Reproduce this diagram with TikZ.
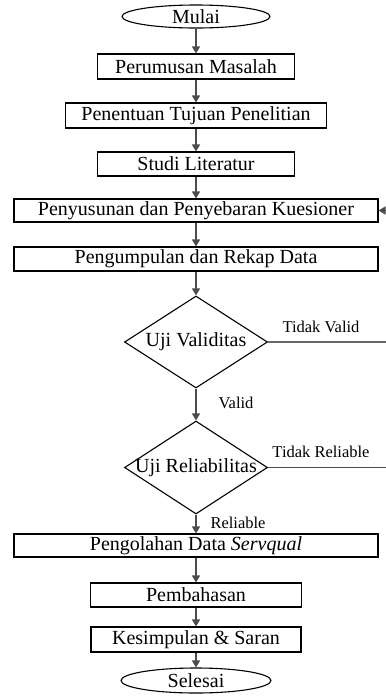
\documentclass[tikz,border=0pt]{standalone}
\usepackage{fontspec}
\setmainfont{Liberation Serif}
\usetikzlibrary{shapes.geometric,arrows.meta}

\tikzset{
    kotak/.style={draw, rectangle, inner sep=0pt, line width=1.1pt},
    oval/.style={draw, ellipse, inner sep=0pt, line width=1.1pt},
    belah/.style={draw, diamond, inner sep=0pt, line width=1.1pt},
    panah/.style={-{Triangle[length=7pt,width=8pt]}, draw=black!70, line width=1.4pt},
    garis/.style={draw=black!60, line width=1.2pt},
    ket/.style={inner sep=0pt, font=\fontsize{16.5}{18}\selectfont}
}

\begin{document}
\begin{tikzpicture}[x=1pt, y=-1pt, font=\fontsize{20}{22}\selectfont]
    \useasboundingbox (0,0) rectangle (386,697);

    % Row 1
    \node[oval, minimum width=148pt, minimum height=23pt] (n1) at (196,16.5) {Mulai};

    % Row 2
    \node[kotak, minimum width=197pt, minimum height=25pt] (n2) at (196,66.5) {Perumusan Masalah};
    \node[kotak, minimum width=261pt, minimum height=25pt] (n3) at (196,115.5) {Penentuan Tujuan Penelitian};
    \node[kotak, minimum width=197pt, minimum height=24pt] (n4) at (196,164) {Studi Literatur};
    \node[kotak, minimum width=364pt, minimum height=23pt] (n5) at (196,210.5) {Penyusunan dan Penyebaran Kuesioner};
    \node[kotak, minimum width=364pt, minimum height=24pt] (n6) at (196,259) {Pengumpulan dan Rekap Data};

    % Row 3
    \node[belah, minimum width=143pt, minimum height=92pt,
        label=center:Uji Validitas] (d1) at (196,342) {};
    \node[belah, minimum width=143pt, minimum height=93pt,
        label=center:Uji Reliabilitas] (d2) at (196,467.5) {};

    % Row 4
    \node[kotak, minimum width=364pt, minimum height=23pt] (n7) at (196,545.5) {Pengolahan Data \textit{Servqual}};
    \node[kotak, minimum width=211pt, minimum height=24pt] (n8) at (196,595) {Pembahasan};
    \node[kotak, minimum width=210pt, minimum height=25pt] (n9) at (196,639.5) {Kesimpulan \& Saran};
    \node[oval, minimum width=150pt, minimum height=25pt] (n10) at (196,680.5) {Selesai};

    % Labels
    \node[ket] (l1) at (321,327) {Tidak Valid};
    \node[ket] (l2) at (236,403) {Valid};
    \node[ket] (l3) at (321,452) {Tidak Reliable};
    \node[ket] (l4) at (238,523) {Reliable};

    % Return path
    \coordinate (r1) at (389,342);
    \coordinate (r2) at (389,467.5);
    \coordinate (r3) at (389,210.5);

    % Edges
    \draw[panah] (n1) -- (n2);
    \draw[panah] (n2) -- (n3);
    \draw[panah] (n3) -- (n4);
    \draw[panah] (n4) -- (n5);
    \draw[panah] (n5) -- (n6);
    \draw[panah] (n6) -- (d1);
    \draw[panah] (d1) -- (d2);
    \draw[panah] (d2) -- (n7);
    \draw[panah] (n7) -- (n8);
    \draw[panah] (n8) -- (n9);
    \draw[panah] (n9) -- (n10);
    \draw[garis] (d1.east) -- (r1);
    \draw[panah] (d2.east) -- (r2) -- (r3) -- (n5.east);
\end{tikzpicture}
\end{document}
